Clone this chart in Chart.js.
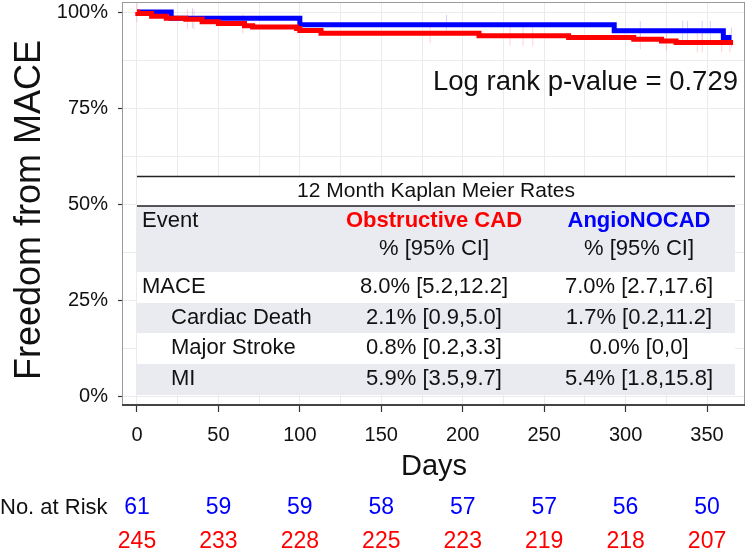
<!DOCTYPE html>
<html>
<head>
<meta charset="utf-8">
<script src="https://cdn.jsdelivr.net/npm/chart.js@4/dist/chart.umd.min.js"></script>
<style>
  html, body { margin: 0; padding: 0; background: #fff; }
  canvas { display: block; }
</style>
</head>
<body>
<canvas id="kmChart" width="747" height="550"></canvas>
<script>
// ===============================
// DATA
// ===============================
const redDays = [0, 0.5, 9, 18, 30, 40, 50, 66, 71, 98, 100, 113, 210, 265, 305, 322, 331, 366];
const redSurv = [100, 99.6, 98.9, 98.4, 98.1, 97.5, 97.0, 96.4, 96.1, 95.7, 95.2, 94.5, 93.8, 93.4, 92.9, 92.5, 92.1, 92.1];

const blueDays = [0, 21, 100, 293, 360, 365];
const blueSurv = [100, 98.4, 96.7, 95.1, 93.4, 93.4];

const redCensor = [0, 31, 35, 65, 180, 229, 237, 243, 309, 325, 344, 347, 359, 364];
const blueCensor = [34, 190, 309, 335, 338, 347, 352, 365];

const riskDays = [0, 50, 100, 150, 200, 250, 300, 350];
const riskBlue = [61, 59, 59, 58, 57, 57, 56, 50];
const riskRed = [245, 233, 228, 225, 223, 219, 218, 207];

const tableTitle = "12 Month Kaplan Meier Rates";
const groupNames = ["Obstructive CAD", "AngioNOCAD"];
const eventNames = ["MACE", "Cardiac Death", "Major Stroke", "MI"];
const redRates = ["8.0% [5.2,12.2]", "2.1% [0.9,5.0]", "0.8% [0.2,3.3]", "5.9% [3.5,9.7]"];
const blueRates = ["7.0% [2.7,17.6]", "1.7% [0.2,11.2]", "0.0% [0,0]", "5.4% [1.8,15.8]"];

const FONT = '"Liberation Sans", Arial, Helvetica, sans-serif';
const RED = '#FF0000';
const BLUE = '#0000FF';

// ===============================
// HELPERS
// ===============================
function toPoints(days, surv) {
    return days.map((d, i) => ({ x: d, y: surv[i] }));
}

// censor marks sit on the curve value at that time
function censorPoints(times, days, surv) {
    return times.map(t => {
        let v = surv[0];
        for (let i = 0; i < days.length; i++) {
            if (days[i] <= t) v = surv[i];
        }
        return { x: t, y: v };
    });
}

function txt(ctx, s, x, y, size, color, align, bold) {
    ctx.font = (bold ? 'bold ' : '') + size + 'px ' + FONT;
    ctx.fillStyle = color;
    ctx.textAlign = align || 'left';
    ctx.textBaseline = 'middle';
    ctx.fillText(s, x, y);
}

// ===============================
// OVERLAY PLUGIN (table, titles, at-risk)
// ===============================
const overlay = {
    id: 'overlay',

    beforeDatasetsDraw(chart) {
        const ctx = chart.ctx;
        const L = 137, R = 735;
        const colA = 434, colB = 639;

        ctx.save();
        ctx.fillStyle = '#FFFFFF';
        ctx.fillRect(L, 176, R - L, 219);

        // shaded bands
        ctx.fillStyle = '#E9EBF0';
        ctx.fillRect(L, 206, R - L, 66);
        ctx.fillRect(L, 303, R - L, 30);
        ctx.fillRect(L, 364, R - L, 31);

        // rules
        ctx.strokeStyle = '#222';
        ctx.lineWidth = 1.5;
        ctx.beginPath();
        ctx.moveTo(L, 176.5); ctx.lineTo(R, 176.5);
        ctx.moveTo(L, 206); ctx.lineTo(R, 206);
        ctx.stroke();

        txt(ctx, tableTitle, 436, 191, 21, '#111', 'center');
        txt(ctx, 'Event', 142, 221, 22, '#111', 'left');
        txt(ctx, groupNames[0], colA, 221, 22, RED, 'center', true);
        txt(ctx, groupNames[1], colB, 221, 22, BLUE, 'center', true);
        txt(ctx, '% [95% CI]', colA, 249, 22, '#111', 'center');
        txt(ctx, '% [95% CI]', colB, 249, 22, '#111', 'center');

        const rowY = [287, 318, 348, 379];
        eventNames.forEach((name, i) => {
            txt(ctx, name, i === 0 ? 142 : 171, rowY[i], 22, '#111', 'left');
            txt(ctx, redRates[i], colA, rowY[i], 22, '#111', 'center');
            txt(ctx, blueRates[i], colB, rowY[i], 22, '#111', 'center');
        });

        txt(ctx, 'Log rank p-value = 0.729', 738, 82, 27.5, '#111', 'right');
        ctx.restore();
    },

    afterDraw(chart) {
        const ctx = chart.ctx;
        const area = chart.chartArea;
        const xs = chart.scales.x;

        ctx.save();
        // panel border
        ctx.strokeStyle = '#999';
        ctx.lineWidth = 1;
        ctx.strokeRect(area.left + 0.5, area.top + 0.5, area.right - area.left - 1, area.bottom - area.top);
        ctx.strokeStyle = '#444';
        ctx.lineWidth = 2;
        ctx.beginPath();
        ctx.moveTo(area.left, area.bottom);
        ctx.lineTo(area.right, area.bottom);
        ctx.stroke();

        // axis titles
        txt(ctx, 'Days', 434, 467, 29, '#111', 'center');
        ctx.translate(30, 210);
        ctx.rotate(-Math.PI / 2);
        txt(ctx, 'Freedom from MACE', 0, 0, 36, '#111', 'center');
        ctx.setTransform(1, 0, 0, 1, 0, 0);

        // numbers at risk
        txt(ctx, 'No. at Risk', 0, 508, 22, '#111', 'left');
        riskDays.forEach((d, i) => {
            const px = xs.getPixelForValue(d);
            txt(ctx, String(riskBlue[i]), px, 508, 23, BLUE, 'center');
            txt(ctx, String(riskRed[i]), px, 542, 23, RED, 'center');
        });
        ctx.restore();
    }
};

// ===============================
// CHART
// ===============================
const ctx = document.getElementById('kmChart').getContext('2d');

new Chart(ctx, {
    type: 'line',
    data: {
        datasets: [
            {
                label: 'Obstructive CAD',
                data: toPoints(redDays, redSurv),
                borderColor: RED,
                borderWidth: 5,
                stepped: 'before',
                pointRadius: 0,
                fill: false
            },
            {
                label: 'AngioNOCAD',
                data: toPoints(blueDays, blueSurv),
                borderColor: BLUE,
                borderWidth: 5,
                stepped: 'before',
                pointRadius: 0,
                fill: false
            },
            {
                label: 'censor red',
                data: censorPoints(redCensor, redDays, redSurv),
                showLine: false,
                pointStyle: 'line',
                rotation: 90,
                pointRadius: 10,
                borderWidth: 1,
                borderColor: 'rgba(255,0,0,0.18)'
            },
            {
                label: 'censor blue',
                data: censorPoints(blueCensor, blueDays, blueSurv),
                showLine: false,
                pointStyle: 'line',
                rotation: 90,
                pointRadius: 10,
                borderWidth: 1,
                borderColor: 'rgba(0,0,255,0.18)'
            }
        ]
    },
    options: {
        responsive: false,
        animation: false,
        layout: { autoPadding: false, padding: { left: 0, right: 2, top: 2, bottom: 0 } },
        plugins: {
            legend: { display: false },
            tooltip: { enabled: false }
        },
        scales: {
            x: {
                type: 'linear',
                min: -9.2,
                max: 373.3,
                border: { display: false },
                grid: {
                    color: '#EBEBEB',
                    lineWidth: 1,
                    tickLength: 7,
                    tickWidth: 1.2,
                    tickColor: c => (c.tick && c.tick.value % 50 === 0) ? '#333' : 'rgba(0,0,0,0)'
                },
                ticks: {
                    stepSize: 25,
                    includeBounds: false,
                    autoSkip: false,
                    maxRotation: 0,
                    padding: 11,
                    color: '#111',
                    font: { family: FONT, size: 20 },
                    callback: v => (v % 50 === 0) ? String(v) : ''
                },
                afterFit: s => {
                    s.height = 145;
                    s.paddingLeft = 0;
                    s.paddingRight = 0;
                }
            },
            y: {
                min: -2.1,
                max: 102.6,
                border: { display: false },
                grid: {
                    color: '#EBEBEB',
                    lineWidth: 1,
                    tickLength: 4,
                    tickWidth: 1.2,
                    tickColor: c => (c.tick && c.tick.value % 25 === 0) ? '#333' : 'rgba(0,0,0,0)'
                },
                ticks: {
                    stepSize: 12.5,
                    includeBounds: false,
                    autoSkip: false,
                    padding: 10,
                    color: '#111',
                    font: { family: FONT, size: 20 },
                    callback: v => (v % 25 === 0) ? v + '%' : ''
                },
                afterFit: s => {
                    s.width = 122;
                    s.paddingTop = 0;
                    s.paddingBottom = 0;
                }
            }
        }
    },
    plugins: [overlay]
});
</script>
</body>
</html>
